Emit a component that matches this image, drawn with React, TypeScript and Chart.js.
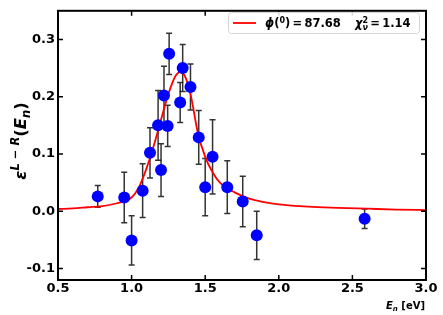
import React, { useEffect, useRef } from "react";
import { Chart, registerables } from "chart.js";
Chart.register(...registerables);

// measured points
const xData = [0.77, 0.95, 1.0, 1.075, 1.125, 1.18, 1.2, 1.22, 1.245, 1.255, 1.33, 1.347, 1.4, 1.456, 1.5, 1.55, 1.65, 1.755, 1.85, 2.583];
const yData = [0.026, 0.024, -0.051, 0.036, 0.102, 0.15, 0.072, 0.202, 0.149, 0.275, 0.19, 0.25, 0.217, 0.129, 0.042, 0.095, 0.042, 0.017, -0.042, -0.013];
const yErr = [0.019, 0.044, 0.043, 0.047, 0.044, 0.061, 0.046, 0.051, 0.036, 0.036, 0.035, 0.041, 0.04, 0.047, 0.05, 0.065, 0.046, 0.044, 0.042, 0.017];

// fit curve
const fitX = [0.5, 0.6, 0.7, 0.8, 0.9, 1.0, 1.05, 1.1, 1.15, 1.2, 1.25, 1.3, 1.33, 1.36, 1.4, 1.45, 1.5, 1.55, 1.6, 1.7, 1.8, 1.9, 2.0, 2.2, 2.4, 2.6, 2.8, 3.0];
const fitY = [0.004, 0.005, 0.007, 0.009, 0.014, 0.024, 0.042, 0.074, 0.114, 0.16, 0.205, 0.237, 0.243, 0.237, 0.205, 0.137, 0.095, 0.068, 0.05, 0.033, 0.022, 0.016, 0.012, 0.008, 0.006, 0.0045, 0.003, 0.002];

const xTicks = [0.5, 1.0, 1.5, 2.0, 2.5, 3.0];
const yTicks = [-0.1, 0.0, 0.1, 0.2, 0.3];
const legendPhi = "87.68";
const legendChi = "1.14";

const FAM = "'DejaVu Sans'";

type Run = { t: string; f: string; dy?: number; stackNext?: boolean };

function runsWidth(ctx: CanvasRenderingContext2D, runs: Run[]) {
  let w = 0;
  let i = 0;
  while (i < runs.length) {
    const r = runs[i];
    ctx.font = r.f;
    let rw = ctx.measureText(r.t).width;
    if (r.stackNext && runs[i + 1]) {
      ctx.font = runs[i + 1].f;
      rw = Math.max(rw, ctx.measureText(runs[i + 1].t).width);
      i++;
    }
    w += rw;
    i++;
  }
  return w;
}

function drawRuns(ctx: CanvasRenderingContext2D, runs: Run[], x: number, y: number) {
  let cx = x;
  let i = 0;
  ctx.textAlign = "left";
  ctx.textBaseline = "alphabetic";
  while (i < runs.length) {
    const r = runs[i];
    ctx.font = r.f;
    ctx.fillText(r.t, cx, y + (r.dy || 0));
    let rw = ctx.measureText(r.t).width;
    if (r.stackNext && runs[i + 1]) {
      const n = runs[i + 1];
      ctx.font = n.f;
      ctx.fillText(n.t, cx, y + (n.dy || 0));
      rw = Math.max(rw, ctx.measureText(n.t).width);
      i++;
    }
    cx += rw;
    i++;
  }
  return cx;
}

export default function App() {
  const ref = useRef<HTMLCanvasElement>(null);
  useEffect(() => {
    document.body.style.margin = "0";
    const canvas = ref.current!;

    const errPlugin = {
      id: "errbars",
      beforeDatasetsDraw(chart: any) {
        const { ctx, scales } = chart;
        const x = scales.x;
        const y = scales.y;
        ctx.save();
        ctx.strokeStyle = "rgba(0,0,0,0.8)";
        ctx.lineWidth = 1.5;
        xData.forEach((xv, i) => {
          const px = x.getPixelForValue(xv);
          const top = y.getPixelForValue(yData[i] + yErr[i]);
          const bot = y.getPixelForValue(yData[i] - yErr[i]);
          ctx.beginPath();
          ctx.moveTo(px, top);
          ctx.lineTo(px, bot);
          ctx.moveTo(px - 3, top);
          ctx.lineTo(px + 3, top);
          ctx.moveTo(px - 3, bot);
          ctx.lineTo(px + 3, bot);
          ctx.stroke();
        });
        ctx.restore();
      },
    };

    const framePlugin = {
      id: "frame",
      afterDraw(chart: any) {
        const { ctx, chartArea, scales } = chart;
        const { left, right, top, bottom } = chartArea;
        const x = scales.x;
        const y = scales.y;
        ctx.save();
        // ticks
        ctx.strokeStyle = "#000";
        ctx.lineWidth = 1.5;
        ctx.beginPath();
        xTicks.forEach((v) => {
          const px = x.getPixelForValue(v);
          ctx.moveTo(px, bottom);
          ctx.lineTo(px, bottom - 5);
          ctx.moveTo(px, top);
          ctx.lineTo(px, top + 5);
        });
        yTicks.forEach((v) => {
          const py = y.getPixelForValue(v);
          ctx.moveTo(left, py);
          ctx.lineTo(left + 5, py);
          ctx.moveTo(right, py);
          ctx.lineTo(right - 5, py);
        });
        ctx.stroke();
        // frame
        ctx.lineWidth = 2;
        ctx.strokeRect(left, top, right - left, bottom - top);

        // legend
        const lx = 228.5, ly = 12.5, lw = 191, lh = 21;
        ctx.fillStyle = "rgba(255,255,255,0.85)";
        ctx.strokeStyle = "#d6d6d6";
        ctx.lineWidth = 1;
        ctx.beginPath();
        (ctx as any).roundRect(lx, ly, lw, lh, 3);
        ctx.fill();
        ctx.stroke();
        ctx.strokeStyle = "#ff0000";
        ctx.lineWidth = 1.8;
        ctx.beginPath();
        ctx.moveTo(233, 23);
        ctx.lineTo(256, 23);
        ctx.stroke();
        ctx.fillStyle = "#000";
        const B = `bold 11.5px ${FAM}`;
        const BI = `italic bold 11.5px ${FAM}`;
        const S = `bold 8px ${FAM}`;
        const SI = `italic bold 8px ${FAM}`;
        drawRuns(ctx, [
          { t: "ϕ", f: BI },
          { t: "(", f: B },
          { t: "0", f: S, dy: -4.5 },
          { t: ")", f: B },
          { t: "\u2009=\u2009" + legendPhi, f: B },
        ], 265, 27);
        drawRuns(ctx, [
          { t: "χ", f: BI },
          { t: "2", f: S, dy: -4.5, stackNext: true },
          { t: "ν", f: SI, dy: 2.5 },
          { t: "\u2009=\u2009" + legendChi, f: B },
        ], 355, 27);

        // y title
        const T = `bold 16.5px ${FAM}`;
        const TI = `italic bold 16.5px ${FAM}`;
        const TS = `italic bold 11.5px ${FAM}`;
        const TSU = `bold 11.5px ${FAM}`;
        const yRuns: Run[] = [
          { t: "ε", f: TI },
          { t: "L", f: TS, dy: -7.5 },
          { t: " − ", f: TSU, dy: -7.5 },
          { t: "R", f: TS, dy: -7.5 },
          { t: "(", f: T },
          { t: "E", f: TI },
          { t: "n", f: TS, dy: 3.5 },
          { t: ")", f: T },
        ];
        const W = runsWidth(ctx, yRuns);
        ctx.save();
        ctx.translate(26, 141);
        ctx.rotate(-Math.PI / 2);
        drawRuns(ctx, yRuns, -W / 2, 0);
        ctx.restore();

        // x title
        const xRuns: Run[] = [
          { t: "E", f: `italic bold 10px ${FAM}` },
          { t: "n", f: `italic bold 7px ${FAM}`, dy: 2.5 },
          { t: " [eV]", f: `bold 10px ${FAM}` },
        ];
        const XW = runsWidth(ctx, xRuns);
        drawRuns(ctx, xRuns, 425 - XW, 308.5);
        ctx.restore();
      },
    };

    const tickFont = { family: "DejaVu Sans", size: 13, weight: "bold" as const };

    const chart = new Chart(canvas, {
      type: "line",
      data: {
        datasets: [
          {
            data: xData.map((x, i) => ({ x, y: yData[i] })),
            showLine: false,
            pointRadius: 6,
            pointHoverRadius: 6,
            pointBackgroundColor: "#0000ff",
            pointBorderWidth: 0,
            borderWidth: 0,
            order: 0,
          } as any,
          {
            data: fitX.map((x, i) => ({ x, y: fitY[i] })),
            borderColor: "#ff0000",
            borderWidth: 1.8,
            pointRadius: 0,
            cubicInterpolationMode: "monotone",
            fill: false,
            order: 1,
          } as any,
        ],
      },
      options: {
        animation: false,
        responsive: false,
        layout: { padding: { top: 6, right: 17, left: 0, bottom: 0 } },
        plugins: { legend: { display: false }, tooltip: { enabled: false } },
        scales: {
          x: {
            type: "linear",
            min: 0.5,
            max: 3.0,
            afterBuildTicks: (s: any) => {
              s.ticks = xTicks.map((v) => ({ value: v }));
            },
            afterFit: (s: any) => {
              s.height = 35;
            },
            grid: { display: false, drawTicks: false },
            border: { display: false },
            ticks: {
              font: tickFont,
              color: "#000",
              padding: 1,
              maxRotation: 0,
              autoSkip: false,
              callback: (v: any) => Number(v).toFixed(1),
            },
          },
          y: {
            type: "linear",
            min: -0.12,
            max: 0.35,
            afterBuildTicks: (s: any) => {
              s.ticks = yTicks.map((v) => ({ value: v }));
            },
            afterFit: (s: any) => {
              s.width = 58;
            },
            grid: { display: false, drawTicks: false },
            border: { display: false },
            ticks: {
              font: tickFont,
              color: "#000",
              padding: 3,
              autoSkip: false,
              callback: (v: any) => Number(v).toFixed(1),
            },
          },
        },
      },
      plugins: [errPlugin, framePlugin],
    });
    return () => chart.destroy();
  }, []);
  return <canvas ref={ref} width={443} height={315} style={{ display: "block" }} />;
}
